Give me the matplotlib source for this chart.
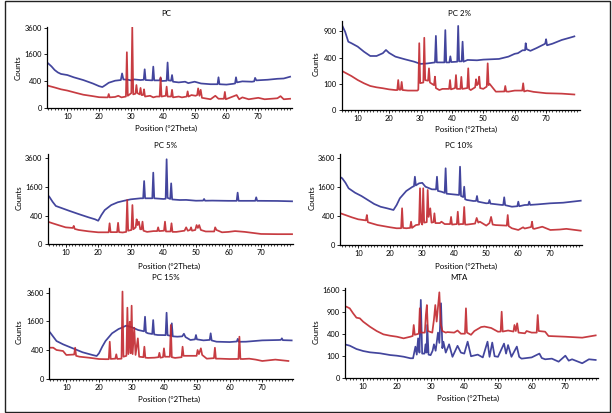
import numpy as np
import matplotlib
matplotlib.use("Agg")
import matplotlib.pyplot as plt
from matplotlib.patches import Rectangle
from matplotlib.ticker import MultipleLocator, FixedLocator

plt.rcParams["font.family"] = ["Lato", "DejaVu Sans"]

BLUE = "#2e3192"
RED = "#c1272d"

# ── XRD patterns (2theta in degrees, counts) ────────────────────────────────
pc_blue_tt = [4, 5, 6, 7, 8, 10, 12, 15, 18, 20, 21, 22, 23, 25, 26.8, 27.2, 27.6, 29, 30, 31, 33,
              34.0, 34.3, 34.6, 36.7, 37.0, 37.3, 39.0, 39.3, 39.6, 41.2, 41.5, 41.8, 42.6, 42.9,
              43.2, 45, 47, 48, 50, 52, 55, 57.2, 57.5, 57.8, 60, 62, 62.7, 63.0, 63.3, 65, 68,
              68.7, 69, 69.4, 73, 76, 78, 80]
pc_blue_ct = [1100, 960, 800, 700, 640, 600, 520, 430, 330, 260, 240, 290, 350, 410, 430, 660, 450,
              440, 420, 450, 430, 440, 830, 430, 420, 950, 420, 420, 500, 400, 410, 1150, 420, 410,
              600, 380, 360, 380, 340, 380, 330, 310, 310, 520, 310, 300, 320, 330, 520, 360, 390,
              380, 390, 500, 420, 440, 470, 480, 540]

pc_red_tt = [4, 6, 8, 10, 13, 15, 18, 20, 22, 22.7, 23, 23.3, 25, 26, 27, 28.4, 28.7, 29.0, 30.1,
             30.4, 30.7, 31.4, 31.7, 32.0, 32.7, 33.0, 33.3, 33.8, 34.1, 34.4, 36, 37, 38, 39.0,
             39.3, 39.6, 40.9, 41.2, 41.5, 42.6, 42.9, 43.2, 45, 46, 47.5, 47.8, 48.1, 49, 50.3,
             50.8, 51.1, 51.5, 51.9, 52.3, 55, 56.5, 57.5, 59.2, 59.5, 59.8, 62, 63.2, 64, 65, 67,
             70, 72, 76, 77, 78, 80]
pc_red_ct = [270, 230, 190, 165, 120, 95, 75, 62, 60, 60, 105, 60, 65, 80, 60, 70, 1730, 80, 120,
             3640, 100, 110, 290, 120, 100, 220, 90, 90, 190, 70, 80, 60, 70, 70, 520, 70, 80, 250,
             70, 70, 180, 60, 70, 60, 70, 150, 70, 90, 80, 90, 210, 80, 180, 55, 40, 80, 45, 45, 140,
             40, 70, 90, 40, 60, 40, 55, 40, 50, 75, 40, 45]

pc2_blue_tt = [5, 6, 7, 8, 10, 12, 14, 16, 18, 19, 20, 22, 25, 28, 30, 32, 34.6, 34.9, 35.2, 37.6,
               37.9, 38.2, 39.2, 39.5, 39.8, 41.7, 42.0, 42.3, 43.1, 43.4, 43.7, 45, 48, 50, 55, 58,
               60, 61, 62.5, 63.3, 63.5, 63.8, 65, 67, 69.7, 70.0, 70.3, 72, 75, 78, 79]
pc2_blue_ct = [1050, 890, 680, 650, 585, 495, 425, 425, 470, 525, 475, 415, 375, 340, 310, 315, 330,
               800, 330, 330, 930, 330, 330, 420, 335, 340, 1030, 345, 345, 680, 340, 365, 360, 370,
               380, 415, 460, 470, 520, 520, 650, 540, 510, 560, 640, 730, 610, 640, 715, 770, 790]

pc2_red_tt = [5, 6, 8, 10, 12, 14, 16, 18, 20, 22, 22.6, 22.9, 23.2, 23.7, 24.0, 24.3, 26, 29.0,
              29.3, 29.6, 29.9, 30.9, 31.2, 31.5, 32.4, 32.7, 33.0, 34.3, 34.6, 34.9, 36, 37, 39.1,
              39.4, 39.7, 41.0, 41.3, 41.6, 42.7, 43.0, 43.3, 44.9, 45.2, 45.5, 46, 47.4, 47.7, 48.0,
              48.4, 48.7, 49.0, 50, 51.1, 51.4, 51.7, 52, 54, 56.7, 57.0, 57.3, 58, 60, 62.4, 62.7,
              63.0, 64, 66, 70, 75, 79]
pc2_red_ct = [222, 203, 168, 131, 104, 84, 75, 69, 62, 58, 58, 131, 60, 60, 115, 58, 55, 55, 60,
              650, 105, 110, 760, 130, 125, 253, 110, 90, 162, 70, 58, 65, 65, 131, 62, 70, 178, 65,
              65, 160, 65, 70, 253, 65, 58, 75, 138, 90, 100, 162, 70, 65, 80, 317, 90, 100, 49, 50,
              84, 50, 49, 55, 55, 104, 50, 55, 48, 41, 39, 35]

pc5_blue_tt = [4.5, 5, 6, 7, 9, 11, 14, 17, 19, 20, 21, 22, 24, 26, 28, 30, 33, 33.8, 34.1, 34.4,
               36.6, 36.9, 37.2, 40.0, 40.7, 41.0, 41.3, 42.1, 42.4, 42.7, 45, 47, 50, 52.2, 52.5,
               52.8, 55, 60, 62.5, 62.8, 63.1, 65, 68.2, 68.5, 68.8, 70, 75, 79.5]
pc5_blue_ct = [1180, 1100, 880, 715, 630, 550, 445, 355, 305, 270, 420, 570, 750, 860, 925, 985,
               1030, 1030, 1950, 1030, 1030, 2500, 1030, 1000, 1010, 3520, 1050, 1000, 1810, 980,
               955, 960, 925, 930, 1000, 925, 930, 920, 920, 1300, 920, 920, 920, 1075, 920, 920,
               915, 900]

pc5_red_tt = [4.5, 6, 8, 10, 12.2, 12.5, 12.8, 14, 17, 20, 22, 23.2, 23.5, 23.8, 25, 25.8, 26.1,
              26.4, 27.5, 28.6, 28.9, 29.2, 30.2, 30.5, 30.8, 31.5, 31.8, 32.1, 32.5, 32.9, 33.3,
              33.6, 33.9, 35, 37, 38.1, 38.4, 38.7, 40.2, 40.5, 40.8, 42.2, 42.5, 42.8, 44, 46.5,
              47, 47.5, 48.2, 48.5, 48.8, 49.8, 50.2, 50.6, 51.0, 51.5, 53, 55.6, 55.9, 56.3, 58,
              60, 62, 65, 70, 75, 79.5]
pc5_red_ct = [250, 215, 175, 140, 130, 165, 115, 100, 82, 70, 70, 70, 215, 72, 72, 72, 225, 72, 68,
              75, 955, 90, 100, 750, 110, 140, 305, 180, 250, 110, 110, 250, 90, 75, 85, 85, 140, 85,
              90, 250, 80, 80, 215, 75, 75, 90, 140, 90, 100, 140, 90, 100, 180, 130, 180, 100, 80,
              80, 140, 100, 70, 75, 85, 75, 52, 50, 50]

pc10_blue_tt = [4.5, 5, 6, 7, 9, 11, 13, 15, 17, 19, 21, 22, 23, 25, 27, 27.4, 27.7, 28.0, 29, 30,
                31, 33, 34.3, 34.6, 34.9, 36, 37.0, 37.3, 37.6, 39.5, 41.5, 41.8, 42.1, 42.8, 43.1,
                43.4, 44, 46, 46.8, 47.1, 47.4, 50, 50.7, 51, 51.3, 55, 55.3, 55.6, 55.9, 58, 59.7,
                60.0, 60.3, 62, 63.1, 63.4, 63.7, 66, 70, 74, 79.5]
pc10_blue_ct = [2195, 2130, 1860, 1540, 1310, 1150, 970, 805, 700, 645, 587, 766, 1043, 1396, 1628,
                1650, 2234, 1700, 1822, 1850, 1628, 1485, 1480, 2234, 1400, 1360, 1300, 2818, 1260,
                1230, 1200, 2936, 1150, 1100, 1628, 1000, 970, 927, 930, 1150, 900, 833, 840, 970,
                820, 766, 770, 1090, 760, 702, 720, 900, 720, 766, 770, 900, 770, 790, 833, 857, 940]

pc10_red_tt = [4.5, 6, 8, 10, 12.4, 12.7, 13.0, 13.5, 16, 20, 22, 23.4, 23.7, 24.0, 25, 26.2, 26.5,
               26.8, 28, 29.0, 29.3, 29.6, 30.0, 30.3, 30.6, 31.4, 31.7, 32.0, 32.5, 32.9, 33.5,
               33.8, 34.1, 35.5, 36, 37, 38.7, 39.0, 39.3, 40.8, 41.1, 41.4, 42, 42.8, 43.1, 43.4,
               44, 46.5, 47, 47.5, 48, 50, 51, 51.5, 52, 53, 56.4, 56.7, 57.0, 58, 60, 61.5, 62, 64,
               64.3, 64.6, 65, 67.5, 70, 73, 75, 79.5]
pc10_red_ct = [480, 430, 367, 316, 290, 431, 250, 238, 191, 150, 134, 135, 645, 140, 134, 140, 260,
               140, 190, 200, 1540, 250, 200, 1540, 240, 250, 1449, 378, 645, 240, 250, 481, 230, 230,
               260, 210, 210, 378, 200, 210, 531, 200, 210, 210, 693, 200, 200, 220, 350, 240, 260,
               180, 230, 378, 200, 190, 180, 431, 170, 134, 108, 150, 130, 155, 260, 130, 125, 160,
               108, 115, 125, 98]

pc15_blue_tt = [4.5, 5, 6, 7, 9, 12, 15, 18, 19.3, 20, 21, 22, 24, 26, 27, 28.3, 30, 32, 33.8,
                34.1, 34.4, 35, 36.3, 36.6, 36.9, 38, 40.4, 40.7, 41.0, 42.0, 42.3, 42.6, 44, 45.5,
                46, 46.5, 48, 49.4, 49.7, 50.0, 52, 53.9, 54.2, 54.5, 56, 60, 62.2, 62.5, 62.8, 65,
                70, 75, 75.7, 76, 76.3, 79]
pc15_blue_ct = [1114, 1054, 866, 698, 582, 455, 345, 279, 256, 319, 505, 698, 1010, 1209, 1274,
                1375, 1300, 1161, 1100, 1877, 1050, 1010, 980, 1683, 960, 936, 930, 2125, 930, 900,
                1500, 880, 866, 880, 990, 850, 736, 760, 936, 760, 722, 740, 1010, 720, 673, 660, 680,
                780, 670, 673, 722, 736, 740, 800, 730, 720]

pc15_red_tt = [4.5, 6, 7, 9, 10, 12.4, 12.7, 13.0, 14, 17, 20, 22, 23.0, 23.3, 23.6, 25.0, 25.3,
               25.6, 26.9, 27.2, 27.5, 28.4, 28.7, 29.0, 29.4, 29.7, 30.0, 30.3, 30.8, 31.2, 31.9,
               32.3, 33.6, 33.9, 34.2, 35, 37, 38.2, 38.5, 38.8, 39.6, 39.9, 40.2, 41.7, 42.0, 42.3,
               43.3, 45.3, 45.6, 45.9, 48, 49.9, 50.2, 50.6, 51.2, 51.6, 53, 55.2, 55.5, 55.8, 57,
               60, 62.7, 63.0, 63.3, 64, 66, 68, 70, 74, 78]
pc15_red_ct = [474, 474, 407, 379, 279, 290, 474, 260, 241, 219, 193, 190, 190, 673, 195, 200, 295,
               195, 200, 3700, 240, 260, 2460, 300, 1587, 320, 2600, 300, 1274, 280, 800, 240, 230,
               505, 220, 215, 220, 230, 331, 220, 230, 455, 240, 240, 1410, 230, 215, 230, 505, 260,
               260, 260, 407, 300, 455, 280, 200, 210, 474, 200, 200, 193, 195, 866, 195, 193, 200,
               182, 157, 182, 157]

mta_red_tt = [4.5, 5, 6, 7, 8, 9, 10, 12, 14, 16, 18, 20, 22, 24, 24.7, 25.0, 25.3, 26.5, 26.8,
              27.1, 28.3, 28.6, 28.9, 29.2, 30.5, 31.0, 31.4, 31.8, 32.6, 33.0, 33.5, 34.5, 35, 37,
              38, 39, 40.2, 40.5, 40.8, 42, 43, 45, 46, 48, 50, 50.8, 51.1, 51.4, 53, 54.6, 54.9,
              55.3, 55.7, 56.1, 58, 58.5, 60, 61.5, 61.8, 62.1, 64, 65, 70, 75, 79]
mta_red_ct = [1042, 1042, 994, 857, 744, 728, 648, 537, 450, 388, 364, 347, 320, 347, 360, 574, 380,
              400, 994, 420, 420, 812, 1091, 450, 420, 700, 1091, 650, 1506, 600, 450, 420, 430, 420,
              460, 400, 400, 994, 420, 380, 450, 530, 540, 510, 437, 440, 900, 440, 460, 440, 574,
              450, 610, 420, 407, 450, 420, 420, 812, 450, 437, 359, 347, 331, 370]

mta_blue_tt = [4.5, 6, 8, 10, 12, 15, 18, 20, 22, 24, 24.8, 25.5, 25.9, 26.3, 26.7, 27.1, 27.5,
               28.2, 28.5, 28.8, 29.0, 29.4, 30, 30.6, 31.0, 31.5, 32.2, 32.6, 33.1, 33.5, 33.8,
               34.5, 35.5, 36.5, 38, 39, 40, 41, 42, 44, 45.5, 46.9, 47.5, 48.3, 49, 50, 51.8, 52.4,
               53.0, 54, 55.6, 56.3, 57, 60, 62.3, 63, 64, 66, 68, 70, 71, 72, 75, 77, 79]
mta_blue_ct = [230, 212, 170, 147, 133, 123, 106, 100, 91, 78, 78, 199, 110, 320, 130, 1250, 120,
               120, 230, 130, 574, 110, 105, 150, 230, 150, 420, 250, 1143, 180, 268, 130, 230, 90,
               210, 130, 120, 268, 95, 110, 85, 268, 90, 255, 95, 90, 240, 120, 220, 90, 200, 90, 75,
               85, 120, 80, 70, 75, 53, 100, 60, 70, 43, 70, 65]

titles = ["PC", "PC 2%", "PC 5%", "PC 10%", "PC 15%", "MTA"]
yticks_big = [0, 400, 1600, 3600]
yticks_small = [0, 100, 400, 900]
yticks_mta = [0, 100, 400, 900, 1600]

panels = [
    (pc_blue_tt, pc_blue_ct, pc_red_tt, pc_red_ct, yticks_big),
    (pc2_blue_tt, pc2_blue_ct, pc2_red_tt, pc2_red_ct, yticks_small),
    (pc5_blue_tt, pc5_blue_ct, pc5_red_tt, pc5_red_ct, yticks_big),
    (pc10_blue_tt, pc10_blue_ct, pc10_red_tt, pc10_red_ct, yticks_big),
    (pc15_blue_tt, pc15_blue_ct, pc15_red_tt, pc15_red_ct, yticks_big),
    (mta_blue_tt, mta_blue_ct, mta_red_tt, mta_red_ct, yticks_mta),
]

# ── layout in pixels: left, top, right, bottom, xlim, ymax, title xy, xlabel xy, ylabel xy ──
W, H = 612, 413
layout = [
    (47, 26.7, 292, 107.7, (3.6, 80.6), 3690, (166, 14), (166, 128), (18, 68)),
    (341.7, 20.7, 580, 110, (4.9, 80.8), 1162, (459, 14), (466, 129), (316, 64)),
    (47.7, 154, 292.7, 244.3, (4.5, 79.7), 3970, (166, 145), (169, 266), (19, 198)),
    (340.3, 154, 582, 245, (4.4, 79.9), 3966, (459, 145), (466, 266), (312, 198)),
    (49, 288.3, 293.3, 379, (4.7, 79.5), 3980, (166, 277), (169, 399), (19, 332)),
    (345, 287.7, 597.7, 377.7, (4.6, 79.6), 1673, (459, 277), (468, 398), (316, 332)),
]

fig = plt.figure(figsize=(W / 100, H / 100), dpi=100)
fig.patch.set_facecolor("white")

FS = 5.4
sqrt_fwd = lambda v: np.sqrt(np.clip(v, 0, None))
sqrt_inv = lambda v: np.square(v)

for title, (btt, bct, rtt, rct, yt), lay in zip(titles, panels, layout):
    L, T, R, B, xl, ymax, tpos, xpos, ypos = lay
    ax = fig.add_axes([L / W, 1 - B / H, (R - L) / W, (B - T) / H])
    ax.set_yscale("function", functions=(sqrt_fwd, sqrt_inv))
    ax.plot(btt, bct, color=BLUE, lw=1.25, alpha=0.9, solid_joinstyle="round")
    ax.plot(rtt, rct, color=RED, lw=1.25, alpha=0.9, solid_joinstyle="round")
    ax.set_xlim(*xl)
    ax.set_ylim(0, ymax)
    ax.yaxis.set_major_locator(FixedLocator(yt))
    ax.set_yticklabels([str(v) for v in yt])
    ax.xaxis.set_major_locator(FixedLocator([10, 20, 30, 40, 50, 60, 70]))
    ax.xaxis.set_minor_locator(MultipleLocator(1))
    ax.yaxis.set_minor_locator(FixedLocator([]))
    for s in ("top", "right"):
        ax.spines[s].set_visible(False)
    for s in ("left", "bottom"):
        ax.spines[s].set_linewidth(0.9)
    ax.tick_params(axis="both", which="major", direction="out", length=2.2, width=0.6,
                   labelsize=FS, pad=1.5)
    ax.tick_params(axis="x", which="minor", direction="out", length=1.3, width=0.5)
    ax.patch.set_alpha(0)

    fig.text(tpos[0] / W, 1 - tpos[1] / H, title, ha="center", va="center", fontsize=FS + 0.3)
    fig.text(xpos[0] / W, 1 - xpos[1] / H, "Position (°2Theta)", ha="center", va="center",
             fontsize=FS + 0.3)
    fig.text(ypos[0] / W, 1 - ypos[1] / H, "Counts", ha="center", va="center", rotation=90,
             fontsize=FS + 0.3)

# thin frame round the whole figure
fig.patches.append(Rectangle((5 / W, 1 / H), 605 / W, 411 / H, transform=fig.transFigure,
                             fill=False, lw=1.0, ec="#222222"))

fig.savefig("out.png", dpi=100)
